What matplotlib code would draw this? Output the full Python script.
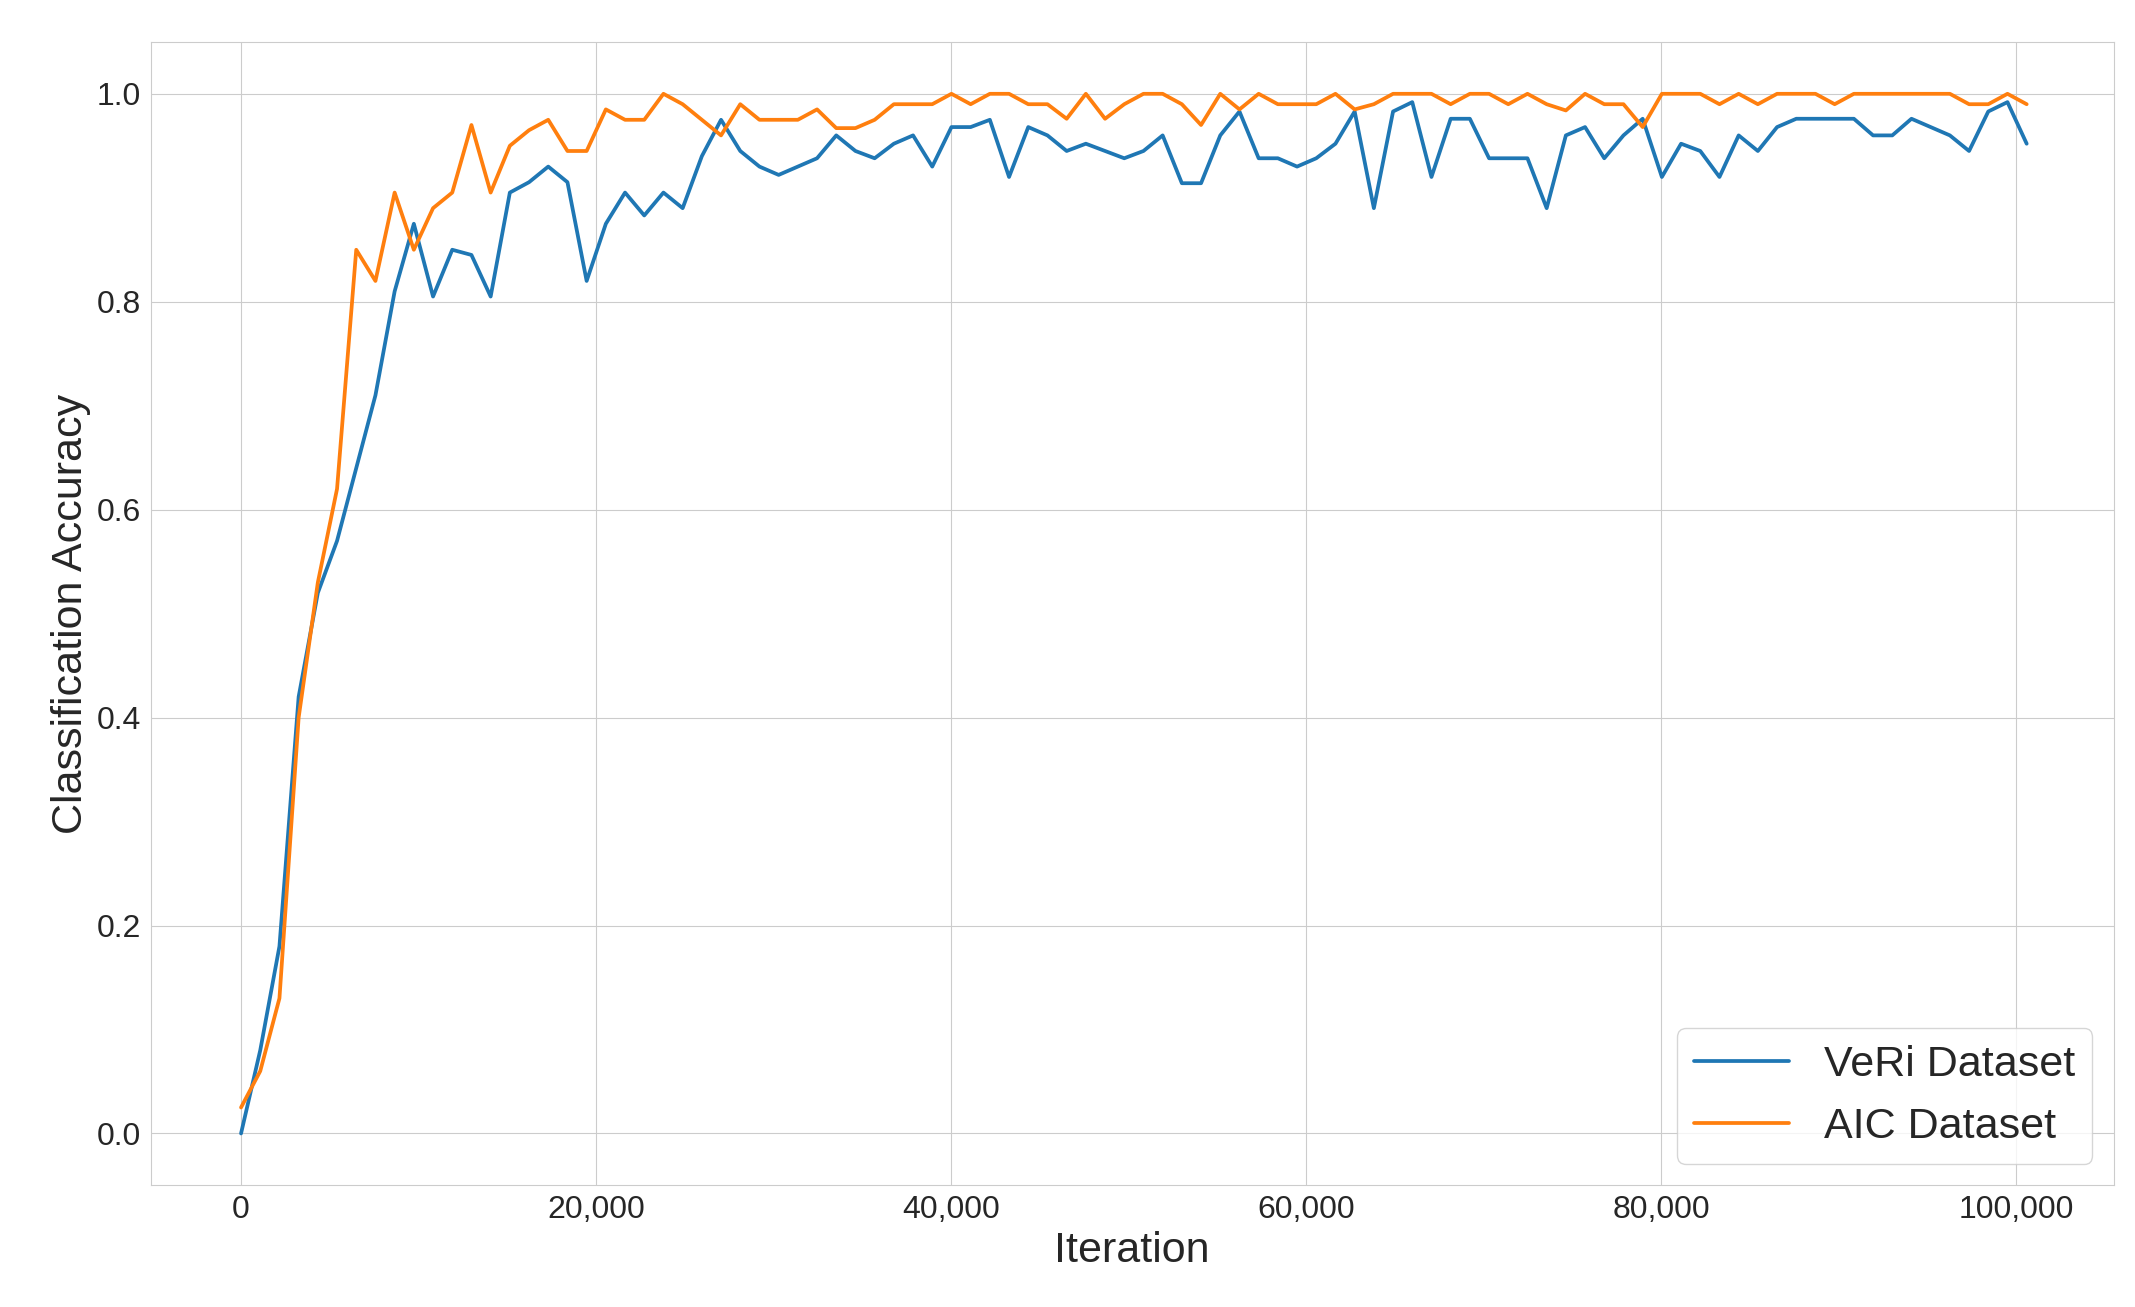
import numpy as np
import matplotlib
matplotlib.use("Agg")
import matplotlib.pyplot as plt
import seaborn as sns
from matplotlib.ticker import FuncFormatter

sns.set_style("whitegrid")
plt.rcParams['font.family'] = ['Arial', 'Liberation Sans', 'DejaVu Sans']

iterations = np.linspace(0, 100600, 94)

veri = [0.0, 0.08, 0.18, 0.42, 0.52, 0.57, 0.64, 0.71, 0.81, 0.875, 0.805, 0.85, 0.845, 0.805,
        0.905, 0.915, 0.93, 0.915, 0.82, 0.875, 0.905, 0.883, 0.905, 0.89, 0.94, 0.975, 0.945,
        0.93, 0.922, 0.93, 0.938, 0.96, 0.945, 0.938, 0.952, 0.96, 0.93, 0.968, 0.968, 0.975, 0.92,
        0.968, 0.96, 0.945, 0.952, 0.945, 0.938, 0.945, 0.96, 0.914, 0.914, 0.96, 0.983, 0.938,
        0.938, 0.93, 0.938, 0.952, 0.983, 0.89, 0.983, 0.992, 0.92, 0.976, 0.976, 0.938, 0.938,
        0.938, 0.89, 0.96, 0.968, 0.938, 0.96, 0.976, 0.92, 0.952, 0.945, 0.92, 0.96, 0.945,
        0.968, 0.976, 0.976, 0.976, 0.976, 0.96, 0.96, 0.976, 0.968, 0.96, 0.945, 0.983, 0.992, 0.952]

aic = [0.025, 0.06, 0.13, 0.40, 0.53, 0.62, 0.85, 0.82, 0.905, 0.85, 0.89, 0.905, 0.97, 0.905,
       0.95, 0.965, 0.975, 0.945, 0.945, 0.985, 0.975, 0.975, 1.0, 0.99, 0.975, 0.96, 0.99,
       0.975, 0.975, 0.975, 0.985, 0.967, 0.967, 0.975, 0.99, 0.99, 0.99, 1.0, 0.99, 1.0, 1.0,
       0.99, 0.99, 0.976, 1.0, 0.976, 0.99, 1.0, 1.0, 0.99, 0.97, 1.0, 0.985, 1.0, 0.99, 0.99,
       0.99, 1.0, 0.985, 0.99, 1.0, 1.0, 1.0, 0.99, 1.0, 1.0, 0.99, 1.0, 0.99, 0.984, 1.0, 0.99,
       0.99, 0.968, 1.0, 1.0, 1.0, 0.99, 1.0, 0.99, 1.0, 1.0, 1.0, 0.99, 1.0, 1.0, 1.0, 1.0,
       1.0, 1.0, 0.99, 0.99, 1.0, 0.99]

fig = plt.figure(figsize=(21.35, 13.07), dpi=100)
ax = fig.add_axes([0.0705, 0.093, 0.9195, 0.875])
ax.plot(iterations, veri, color='#1f77b4', lw=2.7, label='VeRi Dataset')
ax.plot(iterations, aic, color='#ff7f0e', lw=2.7, label='AIC Dataset')
ax.set_xlim(-5100, 105500)
ax.set_ylim(-0.05, 1.05)
ax.set_xticks([0, 20000, 40000, 60000, 80000, 100000])
ax.set_yticks([0.0, 0.2, 0.4, 0.6, 0.8, 1.0])
ax.xaxis.set_major_formatter(FuncFormatter(lambda v, p: f"{int(v):,}"))
ax.tick_params(labelsize=23)
ax.set_xlabel('Iteration', fontsize=31)
ax.set_ylabel('Classification Accuracy', fontsize=31)
leg = ax.legend(loc='lower right', fontsize=31, frameon=True, handlelength=2.2)
fig.savefig('out.png', dpi=100)
